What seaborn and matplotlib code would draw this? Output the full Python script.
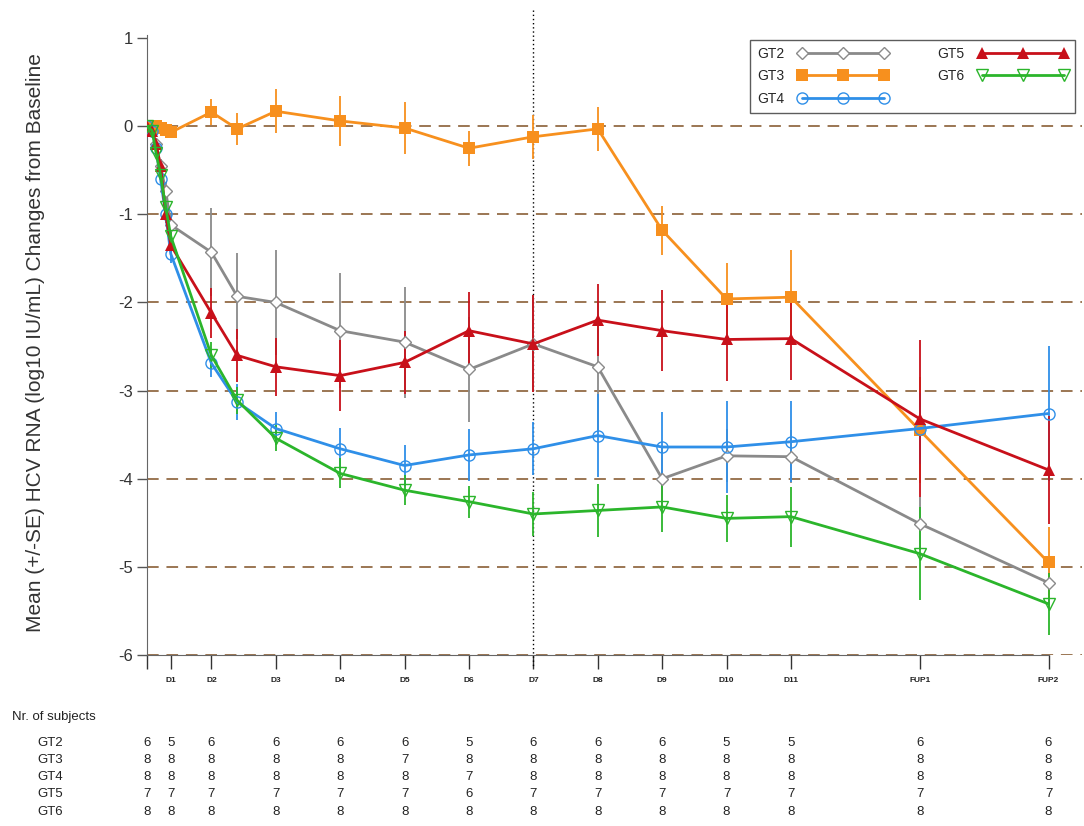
import numpy as np
import pandas as pd
import matplotlib
matplotlib.use("Agg")
import matplotlib.pyplot as plt
import matplotlib.transforms as mtransforms
import seaborn as sns

# ---------------- data ----------------
time_pos = [0, 0.08, 0.14, 0.21, 0.29, 0.37, 1, 1.4, 2, 3, 4, 5, 6, 7, 8, 9, 10, 12, 14]

gt2_mean = [0, -0.05, -0.2, -0.45, -0.73, -1.12, -1.43, -1.93, -2.0, -2.32, -2.45, -2.76, -2.47, -2.73, -4.0, -3.74, -3.75, -4.51, -5.18]
gt2_se = [0, 0, 0.05, 0.08, 0.1, 0.12, 0.5, 0.49, 0.6, 0.65, 0.63, 0.6, 0.55, 0.72, 0.35, 0.3, 0.3, 0.3, 0.3]

gt3_mean = [0, 0, 0, -0.02, -0.04, -0.07, 0.16, -0.03, 0.17, 0.06, -0.02, -0.25, -0.12, -0.03, -1.18, -1.96, -1.94, -3.45, -4.95]
gt3_se = [0, 0, 0, 0, 0.03, 0.05, 0.15, 0.18, 0.25, 0.28, 0.3, 0.2, 0.25, 0.25, 0.28, 0.41, 0.53, 0.6, 0.4]

gt4_mean = [0, -0.05, -0.25, -0.6, -1.0, -1.45, -2.69, -3.13, -3.43, -3.66, -3.85, -3.73, -3.66, -3.51, -3.64, -3.64, -3.58, -3.43, -3.26]
gt4_se = [0, 0, 0.03, 0.05, 0.08, 0.1, 0.15, 0.2, 0.19, 0.24, 0.23, 0.3, 0.3, 0.47, 0.4, 0.52, 0.46, 0.4, 0.77]

gt5_mean = [0, -0.05, -0.2, -0.45, -1.0, -1.35, -2.12, -2.6, -2.73, -2.83, -2.68, -2.32, -2.47, -2.2, -2.32, -2.42, -2.41, -3.32, -3.9]
gt5_se = [0, 0, 0.03, 0.05, 0.1, 0.12, 0.28, 0.3, 0.33, 0.4, 0.36, 0.44, 0.55, 0.41, 0.46, 0.47, 0.47, 0.89, 0.61]

gt6_mean = [0, -0.05, -0.3, -0.55, -0.92, -1.25, -2.6, -3.11, -3.54, -3.94, -4.13, -4.26, -4.40, -4.36, -4.32, -4.45, -4.43, -4.85, -5.42]
gt6_se = [0, 0, 0.03, 0.05, 0.08, 0.1, 0.15, 0.15, 0.15, 0.17, 0.17, 0.18, 0.25, 0.3, 0.28, 0.27, 0.34, 0.53, 0.35]

groups = ["GT2", "GT3", "GT4", "GT5", "GT6"]

tick_pos = [0, 0.37, 1, 2, 3, 4, 5, 6, 7, 8, 9, 10, 12, 14]
tick_labels = ["", "D1", "D2", "D3", "D4", "D5", "D6", "D7", "D8", "D9", "D10", "D11", "FUP1", "FUP2"]

n_gt2 = [6, 5, 6, 6, 6, 6, 5, 6, 6, 6, 5, 5, 6, 6]
n_gt3 = [8, 8, 8, 8, 8, 7, 8, 8, 8, 8, 8, 8, 8, 8]
n_gt4 = [8, 8, 8, 8, 8, 8, 7, 8, 8, 8, 8, 8, 8, 8]
n_gt5 = [7, 7, 7, 7, 7, 7, 6, 7, 7, 7, 7, 7, 7, 7]
n_gt6 = [8, 8, 8, 8, 8, 8, 8, 8, 8, 8, 8, 8, 8, 8]

grid_levels = [0, -1, -2, -3, -4, -5, -6]

# ---------------- styles ----------------
colors = {"GT2": "#8a8a8a", "GT3": "#f7901e", "GT4": "#2f8fe8", "GT5": "#c8101a", "GT6": "#2bb52b"}
mstyle = {
    "GT2": dict(marker="D", markersize=6, markerfacecolor="white", markeredgewidth=1.0),
    "GT3": dict(marker="s", markersize=9, markerfacecolor=colors["GT3"], markeredgewidth=0),
    "GT4": dict(marker="o", markersize=8, markerfacecolor="none", markeredgewidth=1.0),
    "GT5": dict(marker="^", markersize=9, markerfacecolor=colors["GT5"], markeredgewidth=0),
    "GT6": dict(marker="v", markersize=9, markerfacecolor="none", markeredgewidth=1.0),
}

means = {"GT2": gt2_mean, "GT3": gt3_mean, "GT4": gt4_mean, "GT5": gt5_mean, "GT6": gt6_mean}
ses = {"GT2": gt2_se, "GT3": gt3_se, "GT4": gt4_se, "GT5": gt5_se, "GT6": gt6_se}
counts = {"GT2": n_gt2, "GT3": n_gt3, "GT4": n_gt4, "GT5": n_gt5, "GT6": n_gt6}

df = pd.concat([
    pd.DataFrame({"time": time_pos, "mean": means[g], "se": ses[g], "group": g})
    for g in groups
], ignore_index=True)

sns.set_style("white")
plt.rcParams["font.family"] = ["Liberation Sans", "DejaVu Sans"]

fig = plt.figure(figsize=(10.84, 8.26), dpi=100)
W, H = 1084, 826
ax = fig.add_axes([147 / W, 1 - 655 / H, (1082 - 147) / W, (655 - 35) / H])

# dashed reference lines
ax.hlines(grid_levels, 0, 14.52, colors="#9b7653", linestyles=(0, (6, 4)), linewidth=1.4, zorder=0)

# vertical dotted line at D7
ax.plot([6, 6], [1.32, -6.15], color="black", linestyle=(0, (1, 2)), linewidth=1.0, clip_on=False, zorder=1)

for g in groups:
    sub = df[df["group"] == g]
    ax.vlines(sub["time"], sub["mean"] - sub["se"], sub["mean"] + sub["se"],
              color=colors[g], linewidth=1.3, zorder=2)
    sns.lineplot(data=sub, x="time", y="mean", ax=ax, color=colors[g], linewidth=2.0,
                 markeredgecolor=colors[g], label=g, errorbar=None, zorder=3, **mstyle[g])

ax.set_xlim(0, 14.52)
ax.set_ylim(-6, 1.035)
ax.set_xlabel("")
ax.set_ylabel("")

ax.set_yticks([1, 0, -1, -2, -3, -4, -5, -6])
ax.set_yticklabels(["1", "0", "-1", "-2", "-3", "-4", "-5", "-6"], fontsize=12, color="#333333")
ax.set_xticks(tick_pos)
ax.set_xticklabels(tick_labels, fontsize=6, fontweight="bold", color="#222222")
ax.tick_params(axis="y", left=True, direction="out", length=7, width=1, color="#555555", pad=3)
ax.tick_params(axis="x", bottom=True, direction="out", length=10, width=1, color="#333333", pad=6)

for s in ["top", "right"]:
    ax.spines[s].set_visible(False)
ax.spines["left"].set_color("#666666")
ax.spines["bottom"].set_color("#666666")
ax.spines["bottom"].set_bounds(0, 14)

fig.text(36 / W, 1 - 343 / H, "Mean (+/-SE) HCV RNA (log10 IU/mL) Changes from Baseline",
         rotation=90, ha="center", va="center", fontsize=15, color="#333333")

leg = ax.legend(loc="upper right", bbox_to_anchor=(1082 / W, 1 - 33 / H), bbox_transform=fig.transFigure,
                ncol=2, numpoints=3, handlelength=6.5, fontsize=10, frameon=True, fancybox=False,
                edgecolor="#333333", borderpad=0.5, labelspacing=0.6, columnspacing=3.5,
                handletextpad=1.0, markerfirst=False)
leg.get_frame().set_linewidth(1.0)

# subjects table
fig.text(12 / W, 1 - 717 / H, "Nr. of subjects", fontsize=9.5, va="center", ha="left", color="#222222")
trans = mtransforms.blended_transform_factory(ax.transData, fig.transFigure)
row_y = [743, 760, 777, 794, 812]
for g, yy in zip(groups, row_y):
    fig.text(37 / W, 1 - yy / H, g, fontsize=9.5, va="center", ha="left", color="#222222")
    for xp, n in zip(tick_pos, counts[g]):
        ax.text(xp, 1 - yy / H, str(n), transform=trans, fontsize=9.5, ha="center", va="center",
                color="#222222", clip_on=False)

fig.savefig("out.png", dpi=100)
